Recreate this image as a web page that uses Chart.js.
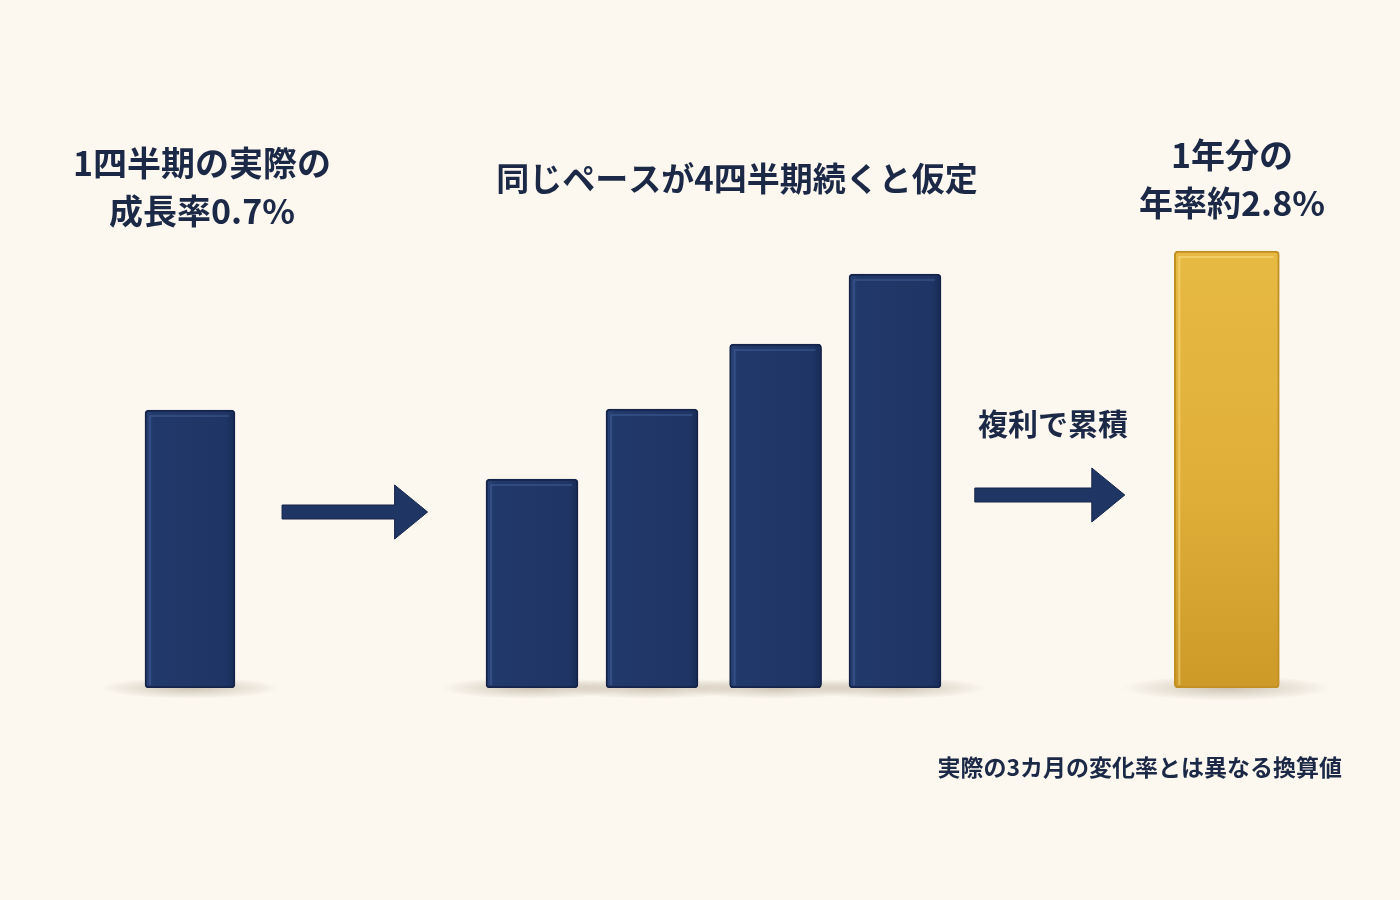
<!DOCTYPE html>
<html>
<head>
<meta charset="utf-8">
<script src="https://cdn.jsdelivr.net/npm/chart.js@4.4.1/dist/chart.umd.min.js"></script>
<style>
  html, body { margin: 0; padding: 0; background: #fcf8f0; }
  #wrap { width: 1400px; height: 900px; }
</style>
</head>
<body>
<div id="wrap"><canvas id="myChart" width="1400" height="900"></canvas></div>
<script>
// values (x = position along the row, y = bar height)
const actualX = [0];
const actualY = [2.78];
const paceX = [2.85, 3.85, 4.88, 5.875];
const paceY = [2.09, 2.79, 3.44, 4.14];
const annualX = [8.64];
const annualY = [4.37];

const actualLabel = ['1四半期の実際の', '成長率0.7%'];
const paceLabel = ['同じペースが4四半期続くと仮定'];
const annualLabel = ['1年分の', '年率約2.8%'];
const compoundLabel = '複利で累積';
const footNote = '実際の3カ月の変化率とは異なる換算値';

// arrows: [fromX, toX, y]
const arrows = [
    [0.767, 1.98, 1.76],
    [6.54, 7.79, 1.93]
];

const FONT = '"Noto Sans CJK JP", "Noto Sans", sans-serif';
const NAVY = '#1f3563';
const TEXT = '#1b2947';

function toPoints(xs, ys) {
    return xs.map((x, i) => ({ x: x, y: ys[i] }));
}

const decorPlugin = {
    id: 'decor',
    beforeDatasetsDraw(chart) {
        // soft shadow under each bar
        const c = chart.ctx;
        chart.data.datasets.forEach((ds, di) => {
            chart.getDatasetMeta(di).data.forEach(bar => {
                const w = bar.width;
                c.save();
                const g = c.createRadialGradient(0, 0, 2, 0, 0, w);
                g.addColorStop(0, 'rgba(120,100,70,0.35)');
                g.addColorStop(1, 'rgba(120,100,70,0)');
                c.translate(bar.x, bar.base);
                c.scale(1, 0.12);
                c.fillStyle = g;
                c.beginPath();
                c.arc(0, 0, w, 0, Math.PI * 2);
                c.fill();
                c.restore();
            });
        });
    },
    afterDatasetsDraw(chart) {
        const c = chart.ctx;
        const xs = chart.scales.x, ys = chart.scales.y;

        // soft bevel highlight on bars
        chart.data.datasets.forEach((ds, di) => {
            chart.getDatasetMeta(di).data.forEach(bar => {
                const l = bar.x - bar.width / 2, r = bar.x + bar.width / 2;
                c.save();
                c.strokeStyle = di === 2 ? 'rgba(255,230,150,0.45)' : 'rgba(90,120,180,0.3)';
                c.lineWidth = 2;
                c.beginPath();
                c.moveTo(l + 5, bar.base - 3);
                c.lineTo(l + 5, bar.y + 6);
                c.lineTo(r - 6, bar.y + 6);
                c.stroke();
                c.restore();
            });
        });

        // arrows
        arrows.forEach(a => {
            const x0 = xs.getPixelForValue(a[0]);
            const x1 = xs.getPixelForValue(a[1]);
            const y = ys.getPixelForValue(a[2]);
            c.save();
            c.fillStyle = NAVY;
            c.strokeStyle = '#15254a';
            c.lineWidth = 1;
            c.beginPath();
            c.moveTo(x0, y - 7);
            c.lineTo(x1 - 33, y - 7);
            c.lineTo(x1 - 33, y - 27);
            c.lineTo(x1, y);
            c.lineTo(x1 - 33, y + 27);
            c.lineTo(x1 - 33, y + 7);
            c.lineTo(x0, y + 7);
            c.closePath();
            c.fill();
            c.stroke();
            c.restore();
        });

        // texts
        c.save();
        c.fillStyle = TEXT;
        c.textAlign = 'center';
        c.textBaseline = 'middle';
        c.font = 'bold 34px ' + FONT;
        actualLabel.forEach((t, i) => c.fillText(t, 202, 163 + i * 48));
        annualLabel.forEach((t, i) => c.fillText(t, 1232, 155 + i * 48));
        c.font = 'bold 33px ' + FONT;
        paceLabel.forEach((t, i) => c.fillText(t, 737, 178 + i * 48));
        c.font = 'bold 30px ' + FONT;
        c.fillText(compoundLabel, 1053, 424);
        c.font = 'bold 23px ' + FONT;
        c.textAlign = 'right';
        c.fillText(footNote, 1342, 767);
        c.restore();
    }
};

const navyFill = function (context) {
    const chart = context.chart;
    const ds = chart.data.datasets[context.datasetIndex];
    if (!context.parsed || !chart.scales.x) return NAVY;
    const cx = chart.scales.x.getPixelForValue(context.parsed.x);
    const w = ds.barThickness;
    if (!isFinite(cx)) return NAVY;
    const g = chart.ctx.createLinearGradient(cx - w / 2, 0, cx + w / 2, 0);
    g.addColorStop(0, '#2a4378');
    g.addColorStop(0.1, '#21386a');
    g.addColorStop(0.9, '#1f3565');
    g.addColorStop(1, '#172b55');
    return g;
};

const goldFill = function (context) {
    const chart = context.chart;
    if (!context.parsed || !chart.scales.y) return '#dcaa35';
    const top = chart.scales.y.getPixelForValue(context.parsed.y);
    const bottom = chart.scales.y.getPixelForValue(0);
    if (!isFinite(top) || !isFinite(bottom)) return '#dcaa35';
    const g = chart.ctx.createLinearGradient(0, top, 0, bottom);
    g.addColorStop(0, '#e7ba44');
    g.addColorStop(0.55, '#dfae38');
    g.addColorStop(1, '#cd9a29');
    return g;
};

const ctx = document.getElementById('myChart').getContext('2d');
new Chart(ctx, {
    type: 'bar',
    data: {
        datasets: [
            {
                label: '1四半期の実際の成長率',
                data: toPoints(actualX, actualY),
                backgroundColor: navyFill,
                borderColor: '#14244a',
                borderWidth: 2,
                borderRadius: 4,
                borderSkipped: false,
                barThickness: 90
            },
            {
                label: '同じペースが4四半期続く',
                data: toPoints(paceX, paceY),
                backgroundColor: navyFill,
                borderColor: '#14244a',
                borderWidth: 2,
                borderRadius: 4,
                borderSkipped: false,
                barThickness: 92
            },
            {
                label: '年率',
                data: toPoints(annualX, annualY),
                backgroundColor: goldFill,
                borderColor: '#c18f22',
                borderWidth: 2,
                borderRadius: 4,
                borderSkipped: false,
                barThickness: 105
            }
        ]
    },
    options: {
        responsive: false,
        animation: false,
        grouped: false,
        layout: { padding: { left: 70, right: 10, top: 88, bottom: 212 } },
        scales: {
            x: { type: 'linear', min: -1, max: 10, offset: false, display: false },
            y: { min: 0, max: 6, display: false }
        },
        plugins: {
            legend: { display: false },
            tooltip: { enabled: false }
        }
    },
    plugins: [decorPlugin]
});
</script>
</body>
</html>
